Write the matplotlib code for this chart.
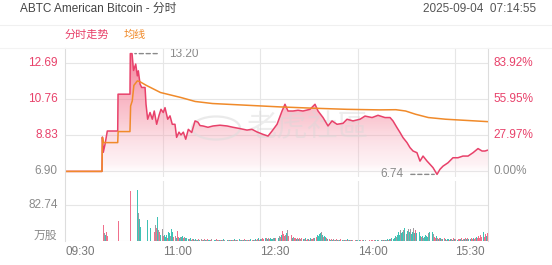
import numpy as np
import matplotlib
matplotlib.use("Agg")
import matplotlib.pyplot as plt
from matplotlib.colors import LinearSegmentedColormap
from matplotlib.patches import Polygon, Circle

plt.rcParams['font.family'] = ['Liberation Sans', 'Noto Sans CJK SC', 'DejaVu Sans']

# ---- data (minutes after 09:30) ----
price_min = [0, 34.1, 34.5, 35.3, 36.9, 39.0, 48.6, 48.9, 59.9, 60.2, 61.8, 63.2, 65.2,
             66.7, 67.6, 69.2, 70.7, 73.8, 74.7, 76.2, 78.4, 80.5, 82.3, 84.5, 86.7,
             88.5, 90.6, 92.2, 94.7, 96.8, 98.9, 101.4, 102.9, 105.1, 106.9, 109.1,
             111.3, 113.7, 116.8, 119.9, 122.6, 124.5, 127.2, 131.8, 136.5, 142.9,
             149.4, 154.9, 161.3, 167.8, 172.4, 177.0, 182.6, 187.2, 190.9, 195.5,
             200.1, 202.8, 205.6, 210.2, 214.8, 219.4, 225.9, 230.5, 233.3, 237.9,
             242.5, 246.2, 250.8, 256.3, 260.0, 265.5, 272.0, 276.6, 283.1, 288.6,
             295.0, 299.7, 302.4, 306.1, 308.9, 311.6, 315.3, 318.1, 320.9, 324.5,
             327.3, 330.1, 333.8, 336.5, 339.3, 343.0, 345.7, 348.5, 353.1, 357.7,
             362.3, 366.9, 371.6, 376.2, 380.8, 384.5, 387.2, 390]
price = [6.90, 6.90, 8.74, 7.92, 8.35, 9.06, 9.06, 11.03, 11.03, 13.20, 13.20, 12.30, 12.64,
         12.01, 12.28, 11.57, 11.39, 11.39, 10.49, 9.69, 10.05, 9.69, 10.13, 9.42, 9.90,
         10.22, 10.05, 10.31, 9.69, 9.87, 9.42, 9.42, 8.72, 9.00, 8.85, 9.00,
         8.62, 9.15, 8.98, 9.60, 9.53, 9.35, 9.33, 9.26, 9.33, 9.37,
         9.33, 9.26, 9.19, 9.11, 9.15, 9.01, 8.88, 8.79, 9.06, 9.42,
         10.13, 10.49, 10.13, 10.13, 10.17, 10.13, 10.22, 10.49, 10.13, 9.78,
         9.33, 9.60, 9.42, 9.47, 9.69, 9.60, 9.69, 9.86, 9.78, 9.90,
         9.78, 9.78, 9.60, 9.24, 8.98, 8.71, 8.44, 8.17, 7.99, 7.90,
         7.45, 7.72, 7.45, 7.28, 7.10, 6.74, 7.01, 7.18, 7.36, 7.63,
         7.63, 7.72, 7.72, 7.90, 8.12, 7.99, 7.99, 8.04]

avg_min = [0, 34.1, 34.5, 35.5, 48.6, 49.0, 59.9, 60.5, 62.0, 63.5, 66.7, 69.0, 75.0,
           88.0, 107.0, 120.0, 136.0, 167.0, 198.0, 229.0, 260.0, 290.0, 305.0,
           314.0, 323.0, 335.0, 351.0, 390.0]
avg_price = [6.90, 6.90, 8.70, 8.44, 8.44, 9.03, 9.03, 10.40, 10.67, 11.50, 11.74, 11.70,
             11.50, 11.12, 10.85, 10.64, 10.53, 10.44, 10.35, 10.28, 10.22, 10.19,
             10.20, 10.13, 9.96, 9.78, 9.69, 9.56]

vol_min = [35, 36, 37, 38, 39, 49, 60, 66, 67, 68, 69, 76, 77, 78] + list(range(82, 390))
vol = ([37, 19, 15, 20, 12, 47, 115, 119, 64, 52, 33, 48, 52, 29] +
       [20, 37, 30, 56, 25, 21, 15, 27, 12, 14, 10, 14, 8, 21, 18, 12, 27, 20, 10, 12,
        8, 24, 10, 8, 10, 9, 11, 7, 9, 6, 8] +
       [5, 4, 6, 3, 4, 5, 3, 4, 2, 3,
        4, 3, 5, 2, 3, 4, 2, 3, 5, 2,
        3, 2, 4, 3, 2, 3, 5, 2, 3, 2,
        2, 3, 2, 4, 2, 3, 2, 2, 3, 2,
        3, 2, 2, 4, 2, 3, 2, 5, 2, 3,
        2, 3, 4, 2, 3, 2, 3, 2, 4, 3,
        2, 3, 5, 3, 4, 6, 3, 5, 4, 6,
        5, 8, 6, 4, 7, 5, 6, 4, 5, 7,
        6, 8, 10, 7, 12, 9, 15, 24, 16, 11,
        14, 18, 25, 12, 9, 14, 8, 10, 6, 7,
        5, 7, 4, 6, 5, 8, 4, 5, 6, 3,
        4, 5, 3, 6, 4, 5, 8, 6, 10, 14,
        12, 16, 18, 21, 14, 10, 12, 9, 6, 5,
        4, 3, 5, 3, 4, 2, 3, 4, 3, 2,
        3, 4, 2, 3, 2, 3, 2, 4, 3, 2,
        2, 3, 2, 2, 3, 2, 2, 1, 2, 2,
        1, 2, 2, 1, 2, 2, 1, 2, 1, 2,
        2, 1, 2, 2, 1, 2, 2, 1, 2, 3,
        2, 3, 2, 3, 4, 3, 5, 4, 6, 5,
        8, 12, 10, 15, 20, 14, 26, 18, 22, 25,
        30, 17, 24, 28, 20, 27, 16, 22, 30, 19,
        25, 18, 14, 20, 12, 9, 11, 8, 10, 14,
        12, 9, 18, 21, 14, 20, 16, 10, 8, 12,
        7, 5, 8, 6, 4, 5, 6, 4, 3, 5,
        4, 3, 5, 4, 3, 6, 4, 5, 3, 4,
        5, 4, 6, 3, 5, 4, 7, 5, 6, 4,
        5, 6, 4, 7, 5, 8, 9, 6, 12, 8,
        14, 10, 21, 9, 16, 12, 18])
vol_dir = ("rngrr" "r" "r" "gngg" "ggg" +
           "rnrgnrgnrggg" "rggnggrngrrgngg" "rngg" +
           "grgnrgrgng" "rgnrgrgnrg" "grnrggrnrg" "rgrgnrgrgr" "gnrgrgrgng"
           "rgrgnrgrgr" "grgnrgrgnr" "rgrgnrgggn" "grggnrgrrn" "rgnrgrgnrr"
           "grgrnrgrgr" "rgrgrnrgrg" "gggngrggrg" "rgrgnrgrgr" "grgrgnrgrg"
           "rgrgrgnrgr" "grgrnrgrgr" "rgrgrgnrgr" "grgngrgrgg" "ggngggnggn"
           "gngngnggng" "rgrggrgngg" "ggngggnrrg" "rgrgrgrgrg" "grgrgrgrgr"
           "rgrgrgrgrg" "grrgrrgrrr" "rrgrrgr")
vol_max_label = 82.74

prev_close = 6.90
y_ticks = [6.90, 8.83, 10.76, 12.69]
pct_labels = ["0.00%", "27.97%", "55.95%", "83.92%"]
x_ticks = [0, 90, 180, 270, 360]
x_labels = ["09:30", "11:00", "12:30", "14:00", "15:30"]

RED = '#e8416a'
ORANGE = '#f08a2a'
GREY = '#8a8a8a'
GRID = '#e6e6e6'
W, H = 552, 265


def fx(px):
    return px / W


def fy(py):
    return 1 - py / H


fig = plt.figure(figsize=(5.52, 2.65), dpi=100)
fig.patch.set_facecolor('white')

ax = fig.add_axes([fx(65), fy(177), fx(488 - 65), (177 - 48) / H])
axv = fig.add_axes([fx(65), fy(241), fx(488 - 65), (241 - 181) / H])

ylo, yhi = 6.60, 13.50
ax.set_xlim(0, 390)
ax.set_ylim(ylo, yhi)
axv.set_xlim(0, 390)
axv.set_ylim(0, 139)

for a in (ax, axv):
    for s in a.spines.values():
        s.set_visible(False)
    a.set_xticks([])
    a.set_yticks([])
    for t in x_ticks[1:]:
        a.axvline(t, color=GRID, lw=0.8, zorder=0)

for v in y_ticks:
    ax.axhline(v, color=GRID, lw=0.8, zorder=0)
axv.axhline(vol_max_label, color=GRID, lw=0.8, zorder=0)
axv.axhline(0, color='#dddddd', lw=0.8, zorder=0)

# borders
fig.add_artist(plt.Line2D([fx(65), fx(65)], [fy(48), fy(241)], color='#dddddd', lw=0.8))
fig.add_artist(plt.Line2D([fx(488), fx(488)], [fy(48), fy(241)], color='#dddddd', lw=0.8))
fig.add_artist(plt.Line2D([0, 1], [fy(25), fy(25)], color='#f0f0f0', lw=0.8))
fig.add_artist(plt.Line2D([0, 1], [fy(47.5), fy(47.5)], color='#f3f3f3', lw=0.8))

# watermark (behind the lines)
ax.add_patch(Circle((fx(216), fy(128)), 24 / W, transform=fig.transFigure,
                    fill=False, ec='#dddddd', lw=1.6, alpha=0.6, zorder=2))
ax.text(fx(247), fy(128), "老虎社區", transform=fig.transFigure, fontsize=22,
        color='#d8d8d8', alpha=0.45, family=['Noto Sans CJK TC'], va='center',
        ha='left', zorder=2)

# gradient fill under price
pts = [(price_min[0], ylo)] + list(zip(price_min, price)) + [(price_min[-1], ylo)]
poly = Polygon(pts, closed=True, facecolor='none', edgecolor='none')
ax.add_patch(poly)
cmap = LinearSegmentedColormap.from_list(
    'pinkfade', [(0.0, (1, 1, 1, 0.0)), (0.1, (0.98, 0.75, 0.8, 0.2)),
                 (0.45, (0.96, 0.55, 0.63, 0.45)), (1.0, (0.95, 0.38, 0.5, 0.8))])
grad = ax.imshow(np.linspace(0, 1, 256).reshape(-1, 1), cmap=cmap, aspect='auto',
                 extent=[0, 390, ylo, 13.2], origin='lower', zorder=1)
grad.set_clip_path(poly)

ax.plot(price_min, price, color=RED, lw=1.1, zorder=3)
ax.plot(avg_min, avg_price, color=ORANGE, lw=1.1, zorder=3)

# max / min annotations
i_max = int(np.argmax(price))
i_min = int(np.argmin(price))
ax.annotate("", xy=(price_min[i_max + 1], price[i_max]), xycoords='data',
            xytext=(28, 0), textcoords='offset pixels',
            arrowprops=dict(arrowstyle='-', color=GREY, ls=(0, (3, 2)), lw=1.0))
ax.annotate(f"{price[i_max]:.2f}", xy=(price_min[i_max + 1], price[i_max]), xycoords='data',
            xytext=(37, 0), textcoords='offset pixels', color=GREY, fontsize=8.5,
            va='center', ha='left')
ax.annotate("", xy=(price_min[i_min], price[i_min]), xycoords='data',
            xytext=(-29, 0), textcoords='offset pixels',
            arrowprops=dict(arrowstyle='-', color=GREY, ls=(0, (3, 2)), lw=1.0))
ax.annotate(f"{price[i_min]:.2f}", xy=(price_min[i_min], price[i_min]), xycoords='data',
            xytext=(-34, 0), textcoords='offset pixels', color=GREY, fontsize=8.5,
            va='center', ha='right')

# volume bars
cmap_dir = {'r': '#f0708c', 'g': '#3fc2b5', 'n': '#a09aa0'}
axv.bar(vol_min, vol, width=0.9, color=[cmap_dir[c] for c in vol_dir], align='edge',
        linewidth=0, zorder=2)

# axis labels
for v in y_ticks:
    c = GREY if v == prev_close else RED
    ax.text(-0.017, v, f"{v:.2f}", transform=ax.get_yaxis_transform(), ha='right',
            va='center', color=c, fontsize=8.5)
for v, lab in zip(y_ticks, pct_labels):
    c = GREY if v == prev_close else RED
    ax.text(1.014, v, lab, transform=ax.get_yaxis_transform(), ha='left',
            va='center', color=c, fontsize=8.5)
axv.text(-0.017, vol_max_label, f"{vol_max_label:.2f}", transform=axv.get_yaxis_transform(),
         ha='right', va='center', color=GREY, fontsize=8.5)
fig.text(fx(57), fy(236), "万股", ha='right', va='center', color=GREY, fontsize=8.5)
for t, lab in zip(x_ticks, x_labels):
    axv.text(t, -0.18, lab, transform=axv.get_xaxis_transform(), ha='left', va='center',
             color='#777777', fontsize=8.5)

# header
fig.text(fx(20), fy(9), "ABTC American Bitcoin - 分时", ha='left', va='center',
         color='#444444', fontsize=8.5)
fig.text(fx(536), fy(9), "2025-09-04  07:14:55", ha='right', va='center',
         color='#555555', fontsize=8.5)
fig.text(fx(65), fy(35), "分时走势", ha='left', va='center', color=RED, fontsize=8)
fig.text(fx(124), fy(35), "均线", ha='left', va='center', color=ORANGE, fontsize=8)

fig.savefig("out.png", dpi=100, facecolor='white')
